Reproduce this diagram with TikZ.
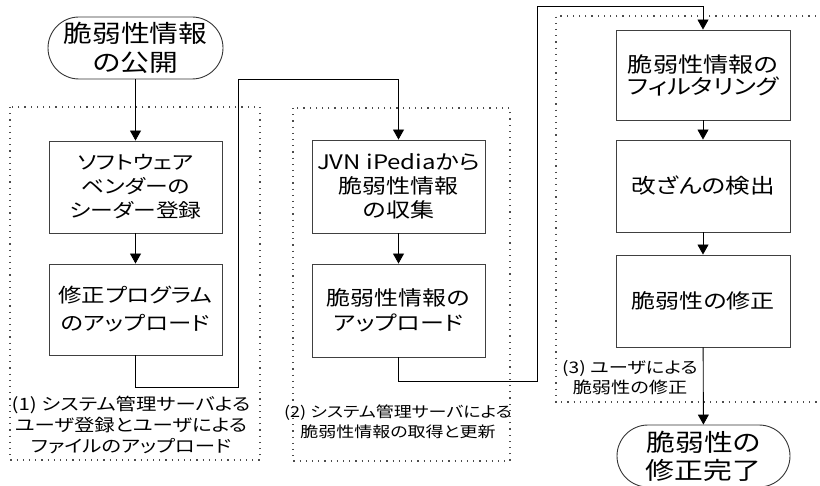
\documentclass[tikz,border=0pt]{standalone}
\usepackage{fontspec}
\setmainfont{Noto Sans CJK JP}[RawFeature={+palt}, FakeStretch=1.2]
\usetikzlibrary{arrows.meta}
\tikzset{
  stepbox/.style={draw=black!75, line width=0.9pt, minimum width=173pt, inner sep=0pt, align=center, font=\fontsize{20}{24}\selectfont},
  termbox/.style={draw=black!80, line width=0.9pt, minimum width=175pt, minimum height=62pt, rounded corners=31pt, inner sep=0pt, align=center, font=\fontsize{24}{29}\selectfont},
  arr/.style={black, line width=0.9pt, -{Triangle[width=11pt,length=10pt]}},
  dotbox/.style={black!70, line width=1.2pt, dash pattern=on 1.2pt off 5pt},
  lbl/.style={align=center, inner sep=0pt, font=\fontsize{16}{20}\selectfont}
}
\begin{document}
\begin{tikzpicture}[x=1pt, y=-1pt]
\useasboundingbox (0,0) rectangle (820,486);
% dotted groups
\draw[dotbox] (10,107) rectangle (260,460);
\draw[dotbox] (293,108) rectangle (510,461);
\draw[dotbox] (822,16) -- (556,16) -- (556,402) -- (822,402);
% nodes
\node[termbox] (start) at (135.5,48) {脆弱性情報\\の公開};
\node[stepbox, minimum height=92pt, font=\fontsize{19}{24}\selectfont] (b1) at (135.5,187) {ソフトウェア\\ベンダーの\\シーダー登録};
\node[stepbox, minimum height=91pt, font=\fontsize{19.5}{28}\selectfont] (b2) at (135.5,309.5) {修正プログラム\\のアップロード};
\node[stepbox, minimum height=93pt, font=\fontsize{20}{24}\selectfont] (b3) at (398.5,186.5) {JVN iPediaから\\脆弱性情報\\の収集};
\node[stepbox, minimum height=93pt, font=\fontsize{20}{25}\selectfont] (b4) at (398.5,310.5) {脆弱性情報の\\アップロード};
\node[stepbox, minimum width=174pt, minimum height=90pt, font=\fontsize{21}{22}\selectfont] (b5) at (703,75) {脆弱性情報の\\フィルタリング};
\node[stepbox, minimum width=174pt, minimum height=92pt, font=\fontsize{20.5}{25}\selectfont] (b6) at (703,186) {改ざんの検出};
\node[stepbox, minimum width=174pt, minimum height=92pt, font=\fontsize{20}{25}\selectfont] (b7) at (703,301) {脆弱性の修正};
\node[termbox, minimum width=173pt, font=\fontsize{24}{28}\selectfont] (end) at (703.5,456) {脆弱性の\\修正完了};
% labels
\node[lbl, font=\fontsize{17}{21}\selectfont] (l1) at (131,425) {(1) システム管理サーバよる\\ユーザ登録とユーザによる\\ファイルのアップロード};
\node[lbl, font=\fontsize{15}{19.5}\selectfont] (l2) at (398,422) {(2) システム管理サーバによる\\脆弱性情報の取得と更新};
\node[lbl] (l3) at (630,378) {(3) ユーザによる\\脆弱性の修正};
% coordinates
\coordinate (c1) at (238,387);
\coordinate (c2) at (238,79);
\coordinate (c3) at (537,381);
\coordinate (c4) at (537,6);
% connectors
\draw[arr] (start) -- (b1);
\draw[arr] (b1) -- (b2);
\draw[arr] (b2.south) |- (c1) -- (c2) -| (b3.north);
\draw[arr] (b3) -- (b4);
\draw[arr] (b4.south) |- (c3) -- (c4) -| (b5.north);
\draw[arr] (b5) -- (b6);
\draw[arr] (b6) -- (b7);
\draw[arr] (b7) -- (end);
\end{tikzpicture}
\end{document}
